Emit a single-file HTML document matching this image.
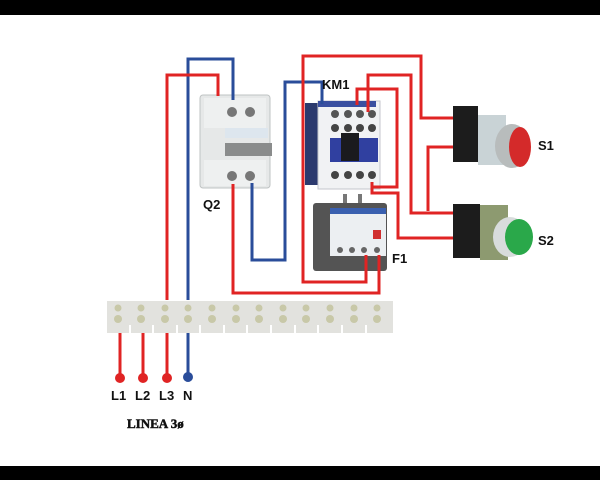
<!DOCTYPE html>
<html><head><meta charset="utf-8"><style>
html,body{margin:0;padding:0;background:#fff;width:600px;height:480px;overflow:hidden}
svg{display:block}
text{font-family:"Liberation Sans",sans-serif;font-weight:bold;fill:#111}
</style></head><body>
<svg width="600" height="480" viewBox="0 0 600 480">
<rect x="0" y="0" width="600" height="15" fill="#000"/>
<rect x="0" y="466" width="600" height="14" fill="#000"/>

<!-- Q2 breaker -->
<g>
<rect x="200" y="95" width="70" height="93" rx="3" fill="#e6e8e8" stroke="#bfc3c3"/>
<rect x="204" y="98" width="62" height="30" fill="#eef0f0"/>
<circle cx="232" cy="112" r="5" fill="#777"/><circle cx="250" cy="112" r="5" fill="#777"/>
<rect x="225" y="128" width="43" height="10" fill="#dde6ee"/>
<rect x="225" y="143" width="47" height="13" fill="#8a8c8c"/>
<rect x="204" y="160" width="62" height="26" fill="#eef0f0"/>
<circle cx="232" cy="176" r="5" fill="#777"/><circle cx="250" cy="176" r="5" fill="#777"/>
</g>

<!-- KM1 contactor -->
<g>
<rect x="305" y="103" width="25" height="82" fill="#2c3a6e"/>
<rect x="318" y="101" width="62" height="88" fill="#f1f2f4" stroke="#c4c6cc"/>
<rect x="318" y="101" width="58" height="6" fill="#3a4fa0"/>
<circle cx="335" cy="114" r="4" fill="#555"/><circle cx="348" cy="114" r="4" fill="#555"/><circle cx="360" cy="114" r="4" fill="#555"/><circle cx="372" cy="114" r="4" fill="#555"/>
<circle cx="335" cy="128" r="4" fill="#444"/><circle cx="348" cy="128" r="4" fill="#444"/><circle cx="360" cy="128" r="4" fill="#444"/><circle cx="372" cy="128" r="4" fill="#444"/>
<rect x="330" y="138" width="48" height="24" fill="#3040a0"/>
<rect x="341" y="133" width="18" height="28" fill="#1a1a1e"/>
<circle cx="335" cy="175" r="4" fill="#444"/><circle cx="348" cy="175" r="4" fill="#444"/><circle cx="360" cy="175" r="4" fill="#444"/><circle cx="372" cy="175" r="4" fill="#444"/>
</g>

<!-- F1 overload -->
<g>
<rect x="343" y="194" width="4" height="12" fill="#777"/><rect x="358" y="194" width="4" height="12" fill="#777"/>
<rect x="313" y="203" width="74" height="68" rx="3" fill="#545454"/>
<rect x="330" y="208" width="56" height="48" fill="#eceff2"/>
<rect x="330" y="208" width="56" height="6" fill="#3a60b0"/>
<rect x="373" y="230" width="8" height="9" fill="#d03030"/>
<circle cx="340" cy="250" r="3" fill="#666"/><circle cx="352" cy="250" r="3" fill="#666"/><circle cx="364" cy="250" r="3" fill="#666"/><circle cx="377" cy="250" r="3" fill="#666"/>
</g>

<!-- S1 -->
<g>
<rect x="453" y="106" width="25" height="56" fill="#1c1c1c"/>
<rect x="478" y="115" width="28" height="50" fill="#c9d3d6"/>
<ellipse cx="512" cy="146" rx="17" ry="22" fill="#b8bcbc"/>
<ellipse cx="520" cy="147" rx="11" ry="20" fill="#d42a2a"/>
</g>
<!-- S2 -->
<g>
<rect x="453" y="204" width="27" height="54" fill="#1c1c1c"/>
<rect x="480" y="205" width="28" height="55" fill="#8d9a70"/>
<ellipse cx="510" cy="237" rx="17" ry="20" fill="#d8dcdc"/>
<ellipse cx="519" cy="237" rx="14" ry="18" fill="#2aa84a"/>
</g>

<!-- Terminal block -->
<g>
<rect x="107" y="301" width="286" height="32" fill="#e2e2de"/>
<g fill="#c8c8a8">
<circle cx="118" cy="308" r="3.5"/><circle cx="141" cy="308" r="3.5"/><circle cx="165" cy="308" r="3.5"/><circle cx="188" cy="308" r="3.5"/><circle cx="212" cy="308" r="3.5"/><circle cx="236" cy="308" r="3.5"/><circle cx="259" cy="308" r="3.5"/><circle cx="283" cy="308" r="3.5"/><circle cx="306" cy="308" r="3.5"/><circle cx="330" cy="308" r="3.5"/><circle cx="354" cy="308" r="3.5"/><circle cx="377" cy="308" r="3.5"/>
<circle cx="118" cy="319" r="4"/><circle cx="141" cy="319" r="4"/><circle cx="165" cy="319" r="4"/><circle cx="188" cy="319" r="4"/><circle cx="212" cy="319" r="4"/><circle cx="236" cy="319" r="4"/><circle cx="259" cy="319" r="4"/><circle cx="283" cy="319" r="4"/><circle cx="306" cy="319" r="4"/><circle cx="330" cy="319" r="4"/><circle cx="354" cy="319" r="4"/><circle cx="377" cy="319" r="4"/>
</g>
<g stroke="#fff" stroke-width="2">
<line x1="130" y1="325" x2="130" y2="333"/><line x1="153" y1="325" x2="153" y2="333"/><line x1="177" y1="325" x2="177" y2="333"/><line x1="200" y1="325" x2="200" y2="333"/><line x1="224" y1="325" x2="224" y2="333"/><line x1="247" y1="325" x2="247" y2="333"/><line x1="271" y1="325" x2="271" y2="333"/><line x1="295" y1="325" x2="295" y2="333"/><line x1="318" y1="325" x2="318" y2="333"/><line x1="342" y1="325" x2="342" y2="333"/><line x1="366" y1="325" x2="366" y2="333"/>
</g>
</g>

<!-- Wires -->
<g fill="none" stroke-width="3" stroke-linejoin="miter">
<polyline stroke="#2a4d9a" points="188,300 188,59 233,59 233,100"/>
<polyline stroke="#2a4d9a" points="252,183 252,260 285,260 285,82 322,82 322,104"/>
<polyline stroke="#2a4d9a" points="188,333 188,378"/>
<g stroke="#e02424">
<polyline points="167,300 167,75 218,75 218,96"/>
<polyline points="233,184 233,293 379,293 379,255"/>
<polyline points="366,255 366,282 303,282 303,56 421,56 421,118 453,118"/>
<polyline points="368,112 368,75 411,75 411,213 453,213"/>
<polyline points="453,147 428,147 428,211"/>
<polyline points="357,105 357,89 397,89 397,187 372,187"/>
<polyline points="372,182 372,193 398,193 398,238 453,238"/>
<polyline points="120,333 120,378"/>
<polyline points="143,333 143,378"/>
<polyline points="167,333 167,378"/>
</g>
</g>
<circle cx="120" cy="378" r="5" fill="#e02424"/>
<circle cx="143" cy="378" r="5" fill="#e02424"/>
<circle cx="167" cy="378" r="5" fill="#e02424"/>
<circle cx="188" cy="377" r="5" fill="#2a4d9a"/>

<!-- Labels -->
<text x="322" y="89" font-size="13">KM1</text>
<text x="203" y="209" font-size="13">Q2</text>
<text x="392" y="263" font-size="13">F1</text>
<text x="538" y="150" font-size="13">S1</text>
<text x="538" y="245" font-size="13">S2</text>
<text x="111" y="400" font-size="13">L1</text>
<text x="135" y="400" font-size="13">L2</text>
<text x="159" y="400" font-size="13">L3</text>
<text x="183" y="400" font-size="13">N</text>
<text x="127" y="428" font-size="13" stroke="#111" stroke-width="0.5" style="font-family:'Liberation Serif',serif">LINEA 3ø</text>
</svg>
</body></html>
